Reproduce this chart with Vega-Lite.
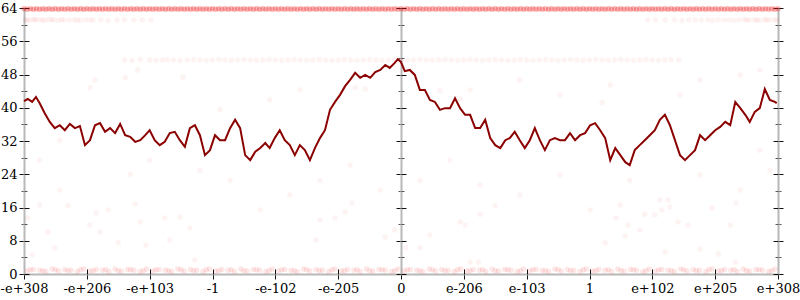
{
 "$schema": "https://vega.github.io/schema/vega-lite/v6.json",
 "width": 754, "height": 266,
 "autosize": "none",
 "padding": {"left": 24, "top": 8, "right": 22, "bottom": 26},
 "background": "white",
 "config": {"view": {"stroke": null}, "axis": {"labelFont": "DejaVu Serif", "labelFontSize": 13, "labelColor": "#000", "grid": false, "domainColor": "#b8b8b8", "domainWidth": 2, "tickWidth": 1, "title": null, "labelOverlap": false, "labelFlush": false, "labelBound": false}},
 "datasets": {
  "edge": [
   {"x":-6,"y":63.8},{"x":-5.95,"y":63.7},{"x":-5.9,"y":63.8},{"x":-5.85,"y":63.7},{"x":-5.8,"y":63.8},{"x":-5.75,"y":63.7},{"x":-5.7,"y":63.8},{"x":-5.65,"y":63.7},{"x":-5.6,"y":63.8},{"x":-5.55,"y":63.7},{"x":-5.5,"y":63.8},{"x":-5.45,"y":63.7},{"x":-5.4,"y":63.8},{"x":-5.35,"y":63.7},{"x":-5.3,"y":63.8},{"x":-5.25,"y":63.7},{"x":-5.2,"y":63.8},{"x":-5.15,"y":63.7},{"x":-5.1,"y":63.8},{"x":-5.05,"y":63.7},
   {"x":-5,"y":63.8},{"x":-4.95,"y":63.7},{"x":-4.9,"y":63.8},{"x":-4.85,"y":63.7},{"x":-4.8,"y":63.8},{"x":-4.75,"y":63.7},{"x":-4.7,"y":63.8},{"x":-4.65,"y":63.7},{"x":-4.6,"y":63.8},{"x":-4.55,"y":63.7},{"x":-4.5,"y":63.8},{"x":-4.45,"y":63.7},{"x":-4.4,"y":63.8},{"x":-4.35,"y":63.7},{"x":-4.3,"y":63.8},{"x":-4.25,"y":63.7},{"x":-4.2,"y":63.8},{"x":-4.15,"y":63.7},{"x":-4.1,"y":63.8},{"x":-4.05,"y":63.7},
   {"x":-4,"y":63.8},{"x":-3.95,"y":63.7},{"x":-3.9,"y":63.8},{"x":-3.85,"y":63.7},{"x":-3.8,"y":63.8},{"x":-3.75,"y":63.7},{"x":-3.7,"y":63.8},{"x":-3.65,"y":63.7},{"x":-3.6,"y":63.8},{"x":-3.55,"y":63.7},{"x":-3.5,"y":63.8},{"x":-3.45,"y":63.7},{"x":-3.4,"y":63.8},{"x":-3.35,"y":63.7},{"x":-3.3,"y":63.8},{"x":-3.25,"y":63.7},{"x":-3.2,"y":63.8},{"x":-3.15,"y":63.7},{"x":-3.1,"y":63.8},{"x":-3.05,"y":63.7},
   {"x":-3,"y":63.8},{"x":-2.95,"y":63.7},{"x":-2.9,"y":63.8},{"x":-2.85,"y":63.7},{"x":-2.8,"y":63.8},{"x":-2.75,"y":63.7},{"x":-2.7,"y":63.8},{"x":-2.65,"y":63.7},{"x":-2.6,"y":63.8},{"x":-2.55,"y":63.7},{"x":-2.5,"y":63.8},{"x":-2.45,"y":63.7},{"x":-2.4,"y":63.8},{"x":-2.35,"y":63.7},{"x":-2.3,"y":63.8},{"x":-2.25,"y":63.7},{"x":-2.2,"y":63.8},{"x":-2.15,"y":63.7},{"x":-2.1,"y":63.8},{"x":-2.05,"y":63.7},
   {"x":-2,"y":63.8},{"x":-1.95,"y":63.7},{"x":-1.9,"y":63.8},{"x":-1.85,"y":63.7},{"x":-1.8,"y":63.8},{"x":-1.75,"y":63.7},{"x":-1.7,"y":63.8},{"x":-1.65,"y":63.7},{"x":-1.6,"y":63.8},{"x":-1.55,"y":63.7},{"x":-1.5,"y":63.8},{"x":-1.45,"y":63.7},{"x":-1.4,"y":63.8},{"x":-1.35,"y":63.7},{"x":-1.3,"y":63.8},{"x":-1.25,"y":63.7},{"x":-1.2,"y":63.8},{"x":-1.15,"y":63.7},{"x":-1.1,"y":63.8},{"x":-1.05,"y":63.7},
   {"x":-1,"y":63.8},{"x":-0.95,"y":63.7},{"x":-0.9,"y":63.8},{"x":-0.85,"y":63.7},{"x":-0.8,"y":63.8},{"x":-0.75,"y":63.7},{"x":-0.7,"y":63.8},{"x":-0.65,"y":63.7},{"x":-0.6,"y":63.8},{"x":-0.55,"y":63.7},{"x":-0.5,"y":63.8},{"x":-0.45,"y":63.7},{"x":-0.4,"y":63.8},{"x":-0.35,"y":63.7},{"x":-0.3,"y":63.8},{"x":-0.25,"y":63.7},{"x":-0.2,"y":63.8},{"x":-0.15,"y":63.7},{"x":-0.1,"y":63.8},{"x":-0.05,"y":63.7},
   {"x":0,"y":63.8},{"x":0.05,"y":63.7},{"x":0.1,"y":63.8},{"x":0.15,"y":63.7},{"x":0.2,"y":63.8},{"x":0.25,"y":63.7},{"x":0.3,"y":63.8},{"x":0.35,"y":63.7},{"x":0.4,"y":63.8},{"x":0.45,"y":63.7},{"x":0.5,"y":63.8},{"x":0.55,"y":63.7},{"x":0.6,"y":63.8},{"x":0.65,"y":63.7},{"x":0.7,"y":63.8},{"x":0.75,"y":63.7},{"x":0.8,"y":63.8},{"x":0.85,"y":63.7},{"x":0.9,"y":63.8},{"x":0.95,"y":63.7},
   {"x":1,"y":63.8},{"x":1.05,"y":63.7},{"x":1.1,"y":63.8},{"x":1.15,"y":63.7},{"x":1.2,"y":63.8},{"x":1.25,"y":63.7},{"x":1.3,"y":63.8},{"x":1.35,"y":63.7},{"x":1.4,"y":63.8},{"x":1.45,"y":63.7},{"x":1.5,"y":63.8},{"x":1.55,"y":63.7},{"x":1.6,"y":63.8},{"x":1.65,"y":63.7},{"x":1.7,"y":63.8},{"x":1.75,"y":63.7},{"x":1.8,"y":63.8},{"x":1.85,"y":63.7},{"x":1.9,"y":63.8},{"x":1.95,"y":63.7},
   {"x":2,"y":63.8},{"x":2.05,"y":63.7},{"x":2.1,"y":63.8},{"x":2.15,"y":63.7},{"x":2.2,"y":63.8},{"x":2.25,"y":63.7},{"x":2.3,"y":63.8},{"x":2.35,"y":63.7},{"x":2.4,"y":63.8},{"x":2.45,"y":63.7},{"x":2.5,"y":63.8},{"x":2.55,"y":63.7},{"x":2.6,"y":63.8},{"x":2.65,"y":63.7},{"x":2.7,"y":63.8},{"x":2.75,"y":63.7},{"x":2.8,"y":63.8},{"x":2.85,"y":63.7},{"x":2.9,"y":63.8},{"x":2.95,"y":63.7},
   {"x":3,"y":63.8},{"x":3.05,"y":63.7},{"x":3.1,"y":63.8},{"x":3.15,"y":63.7},{"x":3.2,"y":63.8},{"x":3.25,"y":63.7},{"x":3.3,"y":63.8},{"x":3.35,"y":63.7},{"x":3.4,"y":63.8},{"x":3.45,"y":63.7},{"x":3.5,"y":63.8},{"x":3.55,"y":63.7},{"x":3.6,"y":63.8},{"x":3.65,"y":63.7},{"x":3.7,"y":63.8},{"x":3.75,"y":63.7},{"x":3.8,"y":63.8},{"x":3.85,"y":63.7},{"x":3.9,"y":63.8},{"x":3.95,"y":63.7},
   {"x":4,"y":63.8},{"x":4.05,"y":63.7},{"x":4.1,"y":63.8},{"x":4.15,"y":63.7},{"x":4.2,"y":63.8},{"x":4.25,"y":63.7},{"x":4.3,"y":63.8},{"x":4.35,"y":63.7},{"x":4.4,"y":63.8},{"x":4.45,"y":63.7},{"x":4.5,"y":63.8},{"x":4.55,"y":63.7},{"x":4.6,"y":63.8},{"x":4.65,"y":63.7},{"x":4.7,"y":63.8},{"x":4.75,"y":63.7},{"x":4.8,"y":63.8},{"x":4.85,"y":63.7},{"x":4.9,"y":63.8},{"x":4.95,"y":63.7},
   {"x":5,"y":63.8},{"x":5.05,"y":63.7},{"x":5.1,"y":63.8},{"x":5.15,"y":63.7},{"x":5.2,"y":63.8},{"x":5.25,"y":63.7},{"x":5.3,"y":63.8},{"x":5.35,"y":63.7},{"x":5.4,"y":63.8},{"x":5.45,"y":63.7},{"x":5.5,"y":63.8},{"x":5.55,"y":63.7},{"x":5.6,"y":63.8},{"x":5.65,"y":63.7},{"x":5.7,"y":63.8},{"x":5.75,"y":63.7},{"x":5.8,"y":63.8},{"x":5.85,"y":63.7},{"x":5.9,"y":63.8},{"x":5.95,"y":63.7},{"x":6,"y":63.8}
  ],
  "bottom": [
   {"x":-5.95,"y":0.7},{"x":-5.85,"y":1.1},{"x":-5.75,"y":0.9},{"x":-5.65,"y":0.6},{"x":-5.55,"y":1.2},{"x":-5.45,"y":0.7},{"x":-5.35,"y":1.1},{"x":-5.25,"y":0.9},{"x":-5.15,"y":0.6},{"x":-5.05,"y":1.2},
   {"x":-4.95,"y":0.7},{"x":-4.85,"y":1.1},{"x":-4.75,"y":0.9},{"x":-4.65,"y":0.6},{"x":-4.55,"y":1.2},{"x":-4.45,"y":0.7},{"x":-4.35,"y":1.1},{"x":-4.25,"y":0.9},{"x":-4.15,"y":0.6},{"x":-4.05,"y":1.2},
   {"x":-3.95,"y":0.7},{"x":-3.85,"y":1.1},{"x":-3.75,"y":0.9},{"x":-3.65,"y":0.6},{"x":-3.55,"y":1.2},{"x":-3.45,"y":0.7},{"x":-3.35,"y":1.1},{"x":-3.25,"y":0.9},{"x":-3.15,"y":0.6},{"x":-3.05,"y":1.2},
   {"x":-2.95,"y":0.7},{"x":-2.85,"y":1.1},{"x":-2.75,"y":0.9},{"x":-2.65,"y":0.6},{"x":-2.55,"y":1.2},{"x":-2.45,"y":0.7},{"x":-2.35,"y":1.1},{"x":-2.25,"y":0.9},{"x":-2.15,"y":0.6},{"x":-2.05,"y":1.2},
   {"x":-1.95,"y":0.7},{"x":-1.85,"y":1.1},{"x":-1.75,"y":0.9},{"x":-1.65,"y":0.6},{"x":-1.55,"y":1.2},{"x":-1.45,"y":0.7},{"x":-1.35,"y":1.1},{"x":-1.25,"y":0.9},{"x":-1.15,"y":0.6},{"x":-1.05,"y":1.2},
   {"x":-0.95,"y":0.7},{"x":-0.85,"y":1.1},{"x":-0.75,"y":0.9},{"x":-0.65,"y":0.6},{"x":-0.55,"y":1.2},{"x":-0.45,"y":0.7},{"x":-0.35,"y":1.1},{"x":-0.25,"y":0.9},{"x":-0.15,"y":0.6},{"x":-0.05,"y":1.2},
   {"x":0.05,"y":0.7},{"x":0.15,"y":1.1},{"x":0.25,"y":0.9},{"x":0.35,"y":0.6},{"x":0.45,"y":1.2},{"x":0.55,"y":0.7},{"x":0.65,"y":1.1},{"x":0.75,"y":0.9},{"x":0.85,"y":0.6},{"x":0.95,"y":1.2},
   {"x":1.05,"y":0.7},{"x":1.15,"y":1.1},{"x":1.25,"y":0.9},{"x":1.35,"y":0.6},{"x":1.45,"y":1.2},{"x":1.55,"y":0.7},{"x":1.65,"y":1.1},{"x":1.75,"y":0.9},{"x":1.85,"y":0.6},{"x":1.95,"y":1.2},
   {"x":2.05,"y":0.7},{"x":2.15,"y":1.1},{"x":2.25,"y":0.9},{"x":2.35,"y":0.6},{"x":2.45,"y":1.2},{"x":2.55,"y":0.7},{"x":2.65,"y":1.1},{"x":2.75,"y":0.9},{"x":2.85,"y":0.6},{"x":2.95,"y":1.2},
   {"x":3.05,"y":0.7},{"x":3.15,"y":1.1},{"x":3.25,"y":0.9},{"x":3.35,"y":0.6},{"x":3.45,"y":1.2},{"x":3.55,"y":0.7},{"x":3.65,"y":1.1},{"x":3.75,"y":0.9},{"x":3.85,"y":0.6},{"x":3.95,"y":1.2},
   {"x":4.05,"y":0.7},{"x":4.15,"y":1.1},{"x":4.25,"y":0.9},{"x":4.35,"y":0.6},{"x":4.45,"y":1.2},{"x":4.55,"y":0.7},{"x":4.65,"y":1.1},{"x":4.75,"y":0.9},{"x":4.85,"y":0.6},{"x":4.95,"y":1.2},
   {"x":5.05,"y":0.7},{"x":5.15,"y":1.1},{"x":5.25,"y":0.9},{"x":5.35,"y":0.6},{"x":5.45,"y":1.2},{"x":5.55,"y":0.7},{"x":5.65,"y":1.1},{"x":5.75,"y":0.9},{"x":5.85,"y":0.6},{"x":5.95,"y":1.2},
   {"x":-5.9,"y":1.0},{"x":-5.7,"y":0.8},{"x":-5.5,"y":1.0},{"x":-5.3,"y":0.8},{"x":-5.1,"y":1.0},{"x":-4.9,"y":0.8},{"x":-4.7,"y":1.0},{"x":-4.5,"y":0.8},{"x":-4.3,"y":1.0},{"x":-4.1,"y":0.8},
   {"x":-3.9,"y":1.0},{"x":-3.7,"y":0.8},{"x":-3.5,"y":1.0},{"x":-3.3,"y":0.8},{"x":-3.1,"y":1.0},{"x":-2.9,"y":0.8},{"x":-2.7,"y":1.0},{"x":-2.5,"y":0.8},{"x":-2.3,"y":1.0},{"x":-2.1,"y":0.8},
   {"x":-1.9,"y":1.0},{"x":-1.7,"y":0.8},{"x":-1.5,"y":1.0},{"x":-1.3,"y":0.8},{"x":-1.1,"y":1.0},{"x":-0.9,"y":0.8},{"x":-0.7,"y":1.0},{"x":-0.5,"y":0.8},{"x":-0.3,"y":1.0},{"x":-0.1,"y":0.8},
   {"x":0.1,"y":1.0},{"x":0.3,"y":0.8},{"x":0.5,"y":1.0},{"x":0.7,"y":0.8},{"x":0.9,"y":1.0},{"x":1.1,"y":0.8},{"x":1.3,"y":1.0},{"x":1.5,"y":0.8},{"x":1.7,"y":1.0},{"x":1.9,"y":0.8},
   {"x":2.1,"y":1.0},{"x":2.3,"y":0.8},{"x":2.5,"y":1.0},{"x":2.7,"y":0.8},{"x":2.9,"y":1.0},{"x":3.1,"y":0.8},{"x":3.3,"y":1.0},{"x":3.5,"y":0.8},{"x":3.7,"y":1.0},{"x":3.9,"y":0.8},
   {"x":4.1,"y":1.0},{"x":4.3,"y":0.8},{"x":4.5,"y":1.0},{"x":4.7,"y":0.8},{"x":4.9,"y":1.0},{"x":5.1,"y":0.8},{"x":5.3,"y":1.0},{"x":5.5,"y":0.8},{"x":5.7,"y":1.0},{"x":5.9,"y":0.8}
  ],
  "pts": [
   {"x":-5.98,"y":61.2},{"x":-5.92,"y":61.0},{"x":-5.86,"y":61.3},{"x":-5.8,"y":61.1},{"x":-5.74,"y":61.2},{"x":-5.66,"y":61.0},{"x":-5.6,"y":61.3},{"x":-5.52,"y":61.2},{"x":-5.45,"y":61.0},{"x":-5.36,"y":61.2},
   {"x":-5.28,"y":61.1},{"x":-5.2,"y":61.2},{"x":-5.1,"y":61.0},{"x":-5.02,"y":61.2},{"x":-4.9,"y":61.1},{"x":-4.78,"y":61.2},{"x":-4.66,"y":61.0},{"x":-4.52,"y":61.2},{"x":-4.4,"y":61.2},{"x":-4.25,"y":61.1},{"x":-4.12,"y":61.2},{"x":-3.98,"y":61.2},
   {"x":-5.95,"y":61.1},{"x":-5.83,"y":61.2},{"x":-5.7,"y":61.1},{"x":-5.56,"y":61.1},{"x":-5.4,"y":61.2},{"x":-5.15,"y":61.1},{"x":-4.95,"y":61.2},
   {"x":3.93,"y":61.2},{"x":4.05,"y":61.2},{"x":4.2,"y":61.1},{"x":4.35,"y":61.2},{"x":4.47,"y":61.0},{"x":4.58,"y":61.2},{"x":4.68,"y":61.2},{"x":4.78,"y":61.1},{"x":4.88,"y":61.2},{"x":4.96,"y":61.0},{"x":5.05,"y":61.2},
   {"x":5.14,"y":61.1},{"x":5.22,"y":61.2},{"x":5.3,"y":61.0},{"x":5.38,"y":61.2},{"x":5.46,"y":61.3},{"x":5.54,"y":61.1},{"x":5.62,"y":61.2},{"x":5.7,"y":61.0},{"x":5.78,"y":61.2},{"x":5.86,"y":61.1},{"x":5.94,"y":61.2},
   {"x":5.5,"y":61.1},{"x":5.66,"y":61.1},{"x":5.82,"y":61.2},{"x":5.98,"y":61.1},
   {"x":-4.4,"y":51.5},{"x":-4.28,"y":51.4},{"x":-4.15,"y":51.6},{"x":-4.0,"y":51.5},{"x":-3.9,"y":51.4},{"x":-3.8,"y":51.5},{"x":-3.72,"y":51.6},{"x":-3.62,"y":51.5},{"x":-3.52,"y":51.4},{"x":-3.4,"y":51.5},
   {"x":-3.3,"y":51.6},{"x":-3.2,"y":51.5},{"x":-3.1,"y":51.4},{"x":-3.0,"y":51.5},{"x":-2.9,"y":51.6},{"x":-2.8,"y":51.5},{"x":-2.7,"y":51.4},{"x":-2.6,"y":51.5},{"x":-2.5,"y":51.6},{"x":-2.4,"y":51.5},
   {"x":-2.3,"y":51.4},{"x":-2.2,"y":51.5},{"x":-2.1,"y":51.6},{"x":-2.0,"y":51.5},{"x":-1.9,"y":51.4},{"x":-1.8,"y":51.5},{"x":-1.7,"y":51.6},{"x":-1.6,"y":51.5},{"x":-1.5,"y":51.4},{"x":-1.4,"y":51.5},
   {"x":-1.3,"y":51.6},{"x":-1.2,"y":51.5},{"x":-1.1,"y":51.4},{"x":-1.0,"y":51.5},{"x":-0.9,"y":51.6},{"x":-0.8,"y":51.5},{"x":-0.7,"y":51.4},{"x":-0.6,"y":51.5},{"x":-0.5,"y":51.6},{"x":-0.4,"y":51.5},
   {"x":-0.3,"y":51.4},{"x":-0.2,"y":51.5},{"x":-0.1,"y":51.6},{"x":0.0,"y":51.5},{"x":0.1,"y":51.4},{"x":0.2,"y":51.5},{"x":0.3,"y":51.6},{"x":0.4,"y":51.5},{"x":0.5,"y":51.4},{"x":0.6,"y":51.5},
   {"x":0.7,"y":51.6},{"x":0.8,"y":51.5},{"x":0.9,"y":51.4},{"x":1.0,"y":51.5},{"x":1.1,"y":51.6},{"x":1.2,"y":51.5},{"x":1.3,"y":51.4},{"x":1.4,"y":51.5},{"x":1.5,"y":51.6},{"x":1.6,"y":51.5},
   {"x":1.7,"y":51.4},{"x":1.8,"y":51.5},{"x":1.9,"y":51.6},{"x":2.0,"y":51.5},{"x":2.1,"y":51.4},{"x":2.2,"y":51.5},{"x":2.3,"y":51.6},{"x":2.4,"y":51.5},{"x":2.5,"y":51.4},{"x":2.6,"y":51.5},
   {"x":2.7,"y":51.6},{"x":2.8,"y":51.5},{"x":2.9,"y":51.4},{"x":3.0,"y":51.5},{"x":3.1,"y":51.6},{"x":3.2,"y":51.5},{"x":3.3,"y":51.4},{"x":3.4,"y":51.5},{"x":3.5,"y":51.6},{"x":3.6,"y":51.5},
   {"x":3.7,"y":51.4},{"x":3.8,"y":51.5},{"x":3.9,"y":51.6},{"x":4.0,"y":51.5},{"x":4.1,"y":51.4},{"x":4.2,"y":51.5},{"x":4.3,"y":51.6},{"x":4.42,"y":51.5},
   {"x":-5.75,"y":16.6},{"x":-5.94,"y":13.5},{"x":-5.87,"y":4.6},{"x":-5.62,"y":10.1},{"x":-5.51,"y":6.3},{"x":-5.3,"y":16.4},{"x":-4.95,"y":11.8},{"x":-4.85,"y":14.7},{"x":-4.79,"y":10.1},{"x":-4.66,"y":15.4},
   {"x":-4.5,"y":7.5},{"x":-4.23,"y":16.8},{"x":-4.15,"y":12.5},{"x":-3.76,"y":13.5},{"x":-3.52,"y":13.7},{"x":-4.06,"y":7.0},{"x":-3.68,"y":8.2},{"x":-3.36,"y":11.1},{"x":-3.28,"y":3.4},
   {"x":-4.87,"y":46.7},{"x":-4.95,"y":44.8},{"x":-4.39,"y":47.2},{"x":-4.19,"y":49.1},{"x":-3.47,"y":47.4},
   {"x":-1.35,"y":8.2},{"x":-0.89,"y":14.9},{"x":-0.78,"y":17.1},{"x":-0.25,"y":8.9},{"x":-0.1,"y":10.6},{"x":0.08,"y":6.3},{"x":0.3,"y":6.3},{"x":0.46,"y":9.4},{"x":0.94,"y":12.5},{"x":1.02,"y":11.8},
   {"x":1.26,"y":14.4},{"x":1.5,"y":16.4},{"x":1.1,"y":2.9},{"x":1.23,"y":2.9},{"x":-1.29,"y":13.0},{"x":-1.05,"y":13.5},
   {"x":3.25,"y":7.5},{"x":3.42,"y":13.5},{"x":3.57,"y":9.1},{"x":3.61,"y":11.8},{"x":3.8,"y":10.6},{"x":3.88,"y":14.4},{"x":4.04,"y":14.2},{"x":4.15,"y":15.4},{"x":4.2,"y":5.3},{"x":4.28,"y":16.1},
   {"x":4.41,"y":12.5},{"x":4.57,"y":11.8},{"x":4.76,"y":6.0},{"x":4.95,"y":15.9},{"x":5.05,"y":4.8},{"x":5.24,"y":11.8},{"x":5.33,"y":17.1},{"x":5.32,"y":2.9},{"x":3.49,"y":16.6},{"x":4.25,"y":17.8},
   {"x":-4.31,"y":24.0},{"x":-4.0,"y":27.4},{"x":-5.75,"y":27.4},{"x":-5.43,"y":20.2},{"x":-3.2,"y":24.9},{"x":-2.72,"y":22.5},{"x":-2.24,"y":15.4},{"x":-1.77,"y":19.0},{"x":-1.29,"y":22.5},{"x":-0.81,"y":26.2},
   {"x":-0.33,"y":20.2},{"x":0.3,"y":22.5},{"x":0.78,"y":27.4},{"x":1.26,"y":21.4},{"x":1.89,"y":19.0},{"x":2.53,"y":23.8},{"x":3.01,"y":15.4},{"x":3.64,"y":22.5},{"x":4.12,"y":17.8},{"x":4.76,"y":23.8},
   {"x":5.4,"y":20.2},{"x":5.71,"y":29.8},{"x":5.87,"y":24.9},{"x":-5.43,"y":32.2},{"x":-2.88,"y":39.5},{"x":-2.09,"y":41.9},{"x":-1.61,"y":44.3},{"x":1.1,"y":44.3},{"x":1.89,"y":46.7},{"x":2.53,"y":43.1},
   {"x":3.33,"y":45.5},{"x":4.44,"y":43.1},{"x":4.76,"y":46.7},{"x":5.4,"y":47.9},{"x":5.71,"y":49.1},{"x":-0.73,"y":44.8},{"x":-0.57,"y":44.5},{"x":0.62,"y":44.1},{"x":0.94,"y":42.0},{"x":3.2,"y":41.2}
  ],
  "line": [
   {"x":-6.0,"y":41.6},{"x":-5.94,"y":42.1},{"x":-5.87,"y":41.4},{"x":-5.81,"y":42.6},{"x":-5.75,"y":41.1},{"x":-5.67,"y":38.7},{"x":-5.59,"y":36.6},{"x":-5.51,"y":35.1},{"x":-5.43,"y":35.8},{"x":-5.35,"y":34.6},
   {"x":-5.27,"y":36.1},{"x":-5.19,"y":35.1},{"x":-5.11,"y":35.6},{"x":-5.03,"y":31.0},{"x":-4.95,"y":32.2},{"x":-4.87,"y":35.8},{"x":-4.79,"y":36.3},{"x":-4.71,"y":34.2},{"x":-4.63,"y":35.1},{"x":-4.55,"y":33.9},
   {"x":-4.47,"y":36.1},{"x":-4.39,"y":33.4},{"x":-4.31,"y":33.0},{"x":-4.23,"y":31.8},{"x":-4.15,"y":32.2},{"x":-4.07,"y":33.4},{"x":-4.0,"y":34.6},{"x":-3.92,"y":32.2},{"x":-3.84,"y":31.0},{"x":-3.76,"y":31.8},
   {"x":-3.68,"y":33.9},{"x":-3.6,"y":34.2},{"x":-3.52,"y":32.2},{"x":-3.44,"y":30.6},{"x":-3.36,"y":35.1},{"x":-3.28,"y":35.8},{"x":-3.2,"y":33.4},{"x":-3.12,"y":28.6},{"x":-3.04,"y":29.8},{"x":-2.96,"y":33.4},
   {"x":-2.88,"y":32.2},{"x":-2.8,"y":32.2},{"x":-2.72,"y":35.1},{"x":-2.64,"y":37.1},{"x":-2.56,"y":35.1},{"x":-2.48,"y":28.6},{"x":-2.4,"y":27.4},{"x":-2.32,"y":29.4},{"x":-2.24,"y":30.3},{"x":-2.16,"y":31.5},
   {"x":-2.09,"y":30.3},{"x":-2.01,"y":32.7},{"x":-1.93,"y":34.6},{"x":-1.85,"y":32.2},{"x":-1.77,"y":31.0},{"x":-1.69,"y":28.6},{"x":-1.61,"y":31.0},{"x":-1.53,"y":29.8},{"x":-1.45,"y":27.4},{"x":-1.37,"y":30.3},
   {"x":-1.29,"y":32.7},{"x":-1.21,"y":34.6},{"x":-1.13,"y":39.5},{"x":-1.05,"y":41.4},{"x":-0.97,"y":43.1},{"x":-0.89,"y":45.2},{"x":-0.81,"y":46.7},{"x":-0.73,"y":48.4},{"x":-0.65,"y":47.2},{"x":-0.57,"y":47.9},
   {"x":-0.49,"y":47.2},{"x":-0.41,"y":48.6},{"x":-0.33,"y":49.1},{"x":-0.25,"y":50.3},{"x":-0.18,"y":49.6},{"x":-0.1,"y":50.8},{"x":-0.05,"y":51.7},{"x":0.0,"y":51.0},{"x":0.06,"y":48.8},{"x":0.14,"y":49.1},
   {"x":0.22,"y":47.9},{"x":0.3,"y":44.3},{"x":0.38,"y":44.3},{"x":0.46,"y":41.9},{"x":0.54,"y":41.4},{"x":0.62,"y":39.5},{"x":0.7,"y":39.9},{"x":0.78,"y":39.9},{"x":0.86,"y":42.3},{"x":0.94,"y":39.9},
   {"x":1.02,"y":38.3},{"x":1.1,"y":38.3},{"x":1.18,"y":35.1},{"x":1.26,"y":35.1},{"x":1.34,"y":37.1},{"x":1.42,"y":32.7},{"x":1.5,"y":31.0},{"x":1.58,"y":30.3},{"x":1.66,"y":32.2},{"x":1.73,"y":32.7},
   {"x":1.81,"y":34.2},{"x":1.89,"y":32.2},{"x":1.97,"y":30.3},{"x":2.05,"y":32.2},{"x":2.13,"y":35.1},{"x":2.21,"y":32.2},{"x":2.29,"y":29.8},{"x":2.37,"y":32.2},{"x":2.45,"y":32.7},{"x":2.53,"y":32.2},
   {"x":2.61,"y":32.2},{"x":2.69,"y":33.9},{"x":2.77,"y":32.2},{"x":2.85,"y":33.4},{"x":2.93,"y":33.9},{"x":3.01,"y":35.8},{"x":3.09,"y":36.3},{"x":3.17,"y":34.6},{"x":3.25,"y":32.7},{"x":3.33,"y":27.4},
   {"x":3.41,"y":30.3},{"x":3.49,"y":28.6},{"x":3.57,"y":26.9},{"x":3.64,"y":26.2},{"x":3.72,"y":29.8},{"x":3.8,"y":31.0},{"x":3.88,"y":32.2},{"x":3.96,"y":33.4},{"x":4.04,"y":34.6},{"x":4.12,"y":37.1},
   {"x":4.2,"y":38.3},{"x":4.28,"y":35.8},{"x":4.36,"y":32.2},{"x":4.44,"y":28.6},{"x":4.52,"y":27.4},{"x":4.6,"y":28.6},{"x":4.68,"y":29.8},{"x":4.76,"y":33.4},{"x":4.84,"y":32.2},{"x":4.92,"y":33.4},
   {"x":5.0,"y":34.6},{"x":5.08,"y":35.4},{"x":5.16,"y":36.6},{"x":5.24,"y":35.8},{"x":5.32,"y":41.4},{"x":5.4,"y":39.9},{"x":5.48,"y":38.3},{"x":5.55,"y":36.6},{"x":5.63,"y":39.0},{"x":5.71,"y":39.9},
   {"x":5.79,"y":44.5},{"x":5.87,"y":41.9},{"x":5.95,"y":41.4},{"x":5.98,"y":41.1}
  ]
 },
 "resolve": {"axis": {"x": "independent", "y": "independent"}},
 "layer": [
  {
   "data": {"name": "pts"},
   "mark": {"type": "circle", "size": 30, "opacity": 0.05, "color": "#ee1111"},
   "encoding": {
    "x": {"field": "x", "type": "quantitative", "scale": {"domain": [-6, 6], "nice": false, "zero": false},
     "axis": {"orient": "bottom", "values": [-6,-5,-4,-3,-2,-1,0,1,2,3,4,5,6], "tickSize": 5, "tickColor": "#111", "labelPadding": 3,
      "labelExpr": "['-e+308','-e+206','-e+103','-1','-e-102','-e-205','0','e-206','e-103','1','e+102','e+205','e+308'][datum.value + 6]"}},
    "y": {"field": "y", "type": "quantitative", "scale": {"domain": [0, 64], "nice": false, "zero": false},
     "axis": {"orient": "left", "values": [0,4,8,12,16,20,24,28,32,36,40,44,48,52,56,60,64], "labelPadding": 2,
      "tickSize": {"condition": {"test": "datum.value % 8 === 0", "value": 5}, "value": 3},
      "tickColor": {"condition": {"test": "datum.value % 8 === 0", "value": "#111"}, "value": "#555"},
      "labelExpr": "datum.value % 8 === 0 ? datum.label : ''"}}
   }
  },
  {
   "data": {"name": "bottom"},
   "mark": {"type": "circle", "size": 30, "opacity": 0.1, "color": "#ee1111"},
   "encoding": {
    "x": {"field": "x", "type": "quantitative", "axis": null},
    "y": {"field": "y", "type": "quantitative", "axis": null}
   }
  },
  {
   "data": {"name": "edge"},
   "mark": {"type": "circle", "size": 30, "opacity": 0.3, "color": "#ee1111"},
   "encoding": {
    "x": {"field": "x", "type": "quantitative", "scale": {"domain": [-6, 6], "nice": false, "zero": false},
     "axis": {"orient": "top", "offset": -266, "values": [-6,-5,-4,-3,-2,-1,0,1,2,3,4,5,6], "tickSize": 5, "tickColor": "#111", "labels": false, "domain": false}},
    "y": {"field": "y", "type": "quantitative", "scale": {"domain": [0, 64], "nice": false, "zero": false},
     "axis": {"orient": "right", "offset": -754, "values": [0,4,8,12,16,20,24,28,32,36,40,44,48,52,56,60,64], "labels": false, "domain": false,
      "tickSize": {"condition": {"test": "datum.value % 8 === 0", "value": 5}, "value": 3},
      "tickColor": {"condition": {"test": "datum.value % 8 === 0", "value": "#111"}, "value": "#555"}}}
   }
  },
  {
   "data": {"name": "line"},
   "mark": {"type": "point", "opacity": 0},
   "encoding": {
    "x": {"field": "x", "type": "quantitative", "axis": null},
    "y": {"field": "y", "type": "quantitative",
     "axis": {"orient": "left", "offset": -377, "values": [0,4,8,12,16,20,24,28,32,36,40,44,48,52,56,60,64], "labels": false, "domain": true,
      "tickSize": {"condition": {"test": "datum.value % 8 === 0", "value": 5}, "value": 3},
      "tickColor": {"condition": {"test": "datum.value % 8 === 0", "value": "#111"}, "value": "#555"}}}
   }
  },
  {
   "data": {"name": "line"},
   "mark": {"type": "point", "opacity": 0},
   "encoding": {
    "x": {"field": "x", "type": "quantitative", "axis": null},
    "y": {"field": "y", "type": "quantitative",
     "axis": {"orient": "right", "offset": -377, "values": [0,4,8,12,16,20,24,28,32,36,40,44,48,52,56,60,64], "labels": false, "domain": false,
      "tickSize": {"condition": {"test": "datum.value % 8 === 0", "value": 5}, "value": 3},
      "tickColor": {"condition": {"test": "datum.value % 8 === 0", "value": "#111"}, "value": "#555"}}}
   }
  },
  {
   "data": {"name": "line"},
   "mark": {"type": "point", "opacity": 0},
   "encoding": {
    "x": {"field": "x", "type": "quantitative", "axis": null},
    "y": {"field": "y", "type": "quantitative",
     "axis": {"orient": "right", "offset": 0, "values": [0,4,8,12,16,20,24,28,32,36,40,44,48,52,56,60,64], "labels": false, "domain": true,
      "tickSize": {"condition": {"test": "datum.value % 8 === 0", "value": 5}, "value": 3},
      "tickColor": {"condition": {"test": "datum.value % 8 === 0", "value": "#111"}, "value": "#555"}}}
   }
  },
  {
   "data": {"name": "line"},
   "mark": {"type": "point", "opacity": 0},
   "encoding": {
    "x": {"field": "x", "type": "quantitative", "axis": null},
    "y": {"field": "y", "type": "quantitative",
     "axis": {"orient": "left", "offset": -754, "values": [0,4,8,12,16,20,24,28,32,36,40,44,48,52,56,60,64], "labels": false, "domain": false,
      "tickSize": {"condition": {"test": "datum.value % 8 === 0", "value": 5}, "value": 3},
      "tickColor": {"condition": {"test": "datum.value % 8 === 0", "value": "#111"}, "value": "#555"}}}
   }
  },
  {
   "data": {"name": "line"},
   "mark": {"type": "line", "color": "#8b0000", "strokeWidth": 2},
   "encoding": {
    "x": {"field": "x", "type": "quantitative", "axis": null},
    "y": {"field": "y", "type": "quantitative", "axis": null}
   }
  }
 ]
}
